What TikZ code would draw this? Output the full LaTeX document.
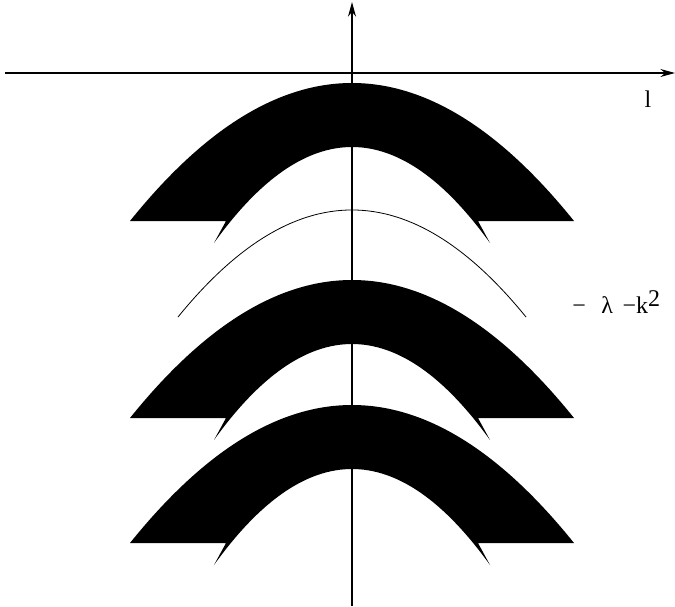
\documentclass[tikz,border=0pt]{standalone}
\usepackage{fontspec}
\setmainfont{Liberation Serif}
\usepackage{tikz}
\usetikzlibrary{arrows.meta}

\tikzset{
  axis/.style={line width=0.9pt, -{Stealth[length=11pt,width=6pt]}},
  band/.style={fill=black, draw=none},
  level/.style={line width=0.6pt},
  lbl/.style={font=\fontsize{18}{20}\selectfont, inner sep=0pt}
}

\begin{document}
\begin{tikzpicture}[x=0.75pt,y=-0.75pt]
\useasboundingbox (0,0) rectangle (675,607);
%% Axes %%

\coordinate (xl) at (5,73);
\coordinate (xr) at (675,73);
\coordinate (yb) at (352,606);
\coordinate (yt) at (352,2);

%% Bands %%

\foreach \dy in {0,197,322}{
\begin{scope}[shift={(0,\dy)}]
\fill[band] (130,221) .. controls (278,37) and (426,37) .. (574,221)
  -- (478,221) -- (490,243)
  .. controls (398,115) and (306,115) .. (214,243)
  -- (226,221) -- cycle;
\end{scope}
}

%% Curve %%

\coordinate (cl) at (178,317);
\coordinate (cr) at (526,317);
\draw[level] (cl) .. controls (294,174.3) and (410,174.3) .. (cr);

\draw[axis] (xl) -- (xr);
\draw[axis] (yb) -- (yt);

\node[lbl] (l) at (648,99) {l};
\node[lbl, anchor=west] (lam) at (572,302) {−\hspace{0.65em}λ\hspace{0.4em}−k\raisebox{0.6ex}{2}};

\end{tikzpicture}
\end{document}
